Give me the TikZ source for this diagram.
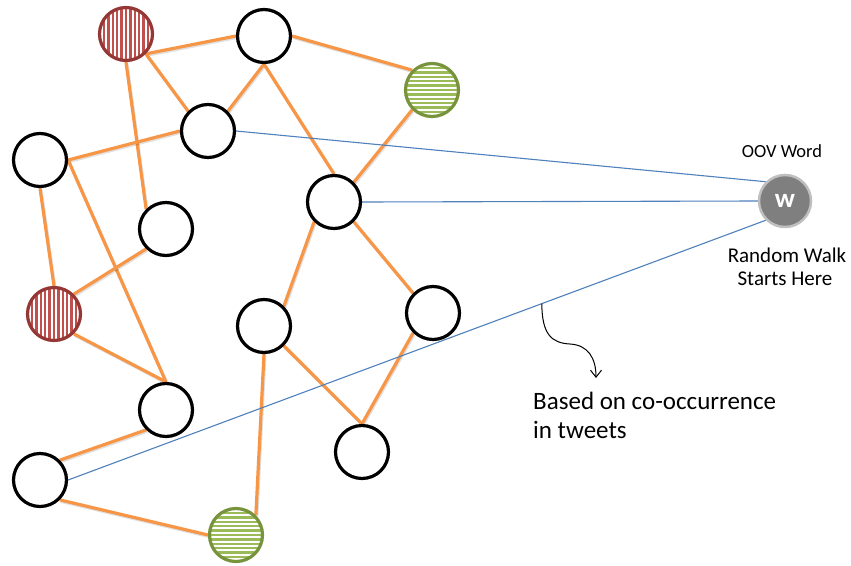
\documentclass[tikz,border=0pt]{standalone}
\usepackage{fontspec}
\setmainfont{Carlito}
\usetikzlibrary{arrows.meta,calc}
\definecolor{edgeorange}{HTML}{F79646}
\definecolor{edgeblue}{HTML}{4F81BD}
\definecolor{redrim}{HTML}{953735}
\definecolor{redstripe}{HTML}{C0504D}
\definecolor{greenrim}{HTML}{77933C}
\definecolor{greenstripe}{HTML}{9BBB59}
\definecolor{wordfill}{HTML}{7F7F7F}
\definecolor{wordrim}{HTML}{BFBFBF}
\pgfdeclarelayer{paper}
\pgfdeclarelayer{edges}
\pgfsetlayers{paper,edges,main}

\begin{document}
\begin{tikzpicture}[x=1pt,y=-1pt,
  vertex/.style={circle, draw=black, line width=3.2pt, fill=white,
    minimum size=53pt, inner sep=0pt},
  redvertex/.style={vertex, draw=redrim,
    path picture={\foreach \s in {-26.4,-22,...,26.5}
      \draw[redstripe, line width=2.4pt, shift={(path picture bounding box.center)}]
        (\s,-30) -- (\s,30);}},
  greenvertex/.style={vertex, draw=greenrim,
    path picture={\foreach \s in {-26.4,-22,...,26.5}
      \draw[greenstripe, line width=2.4pt, shift={(path picture bounding box.center)}]
        (-30,\s) -- (30,\s);}},
  wordvertex/.style={circle, draw=wordrim, fill=wordfill, line width=2.5pt,
    minimum size=52pt, inner sep=0pt, text=white,
    font=\fontsize{27}{29}\selectfont\bfseries},
  link/.style={draw=edgeorange, line width=3.2pt,
    preaction={draw=black, draw opacity=0.12, line width=3pt,
      transform canvas={shift={(1pt,-1.5pt)}}}},
  walk/.style={draw=edgeblue, line width=1.1pt},
  label/.style={inner sep=0pt, text=black},
]
% page
\begin{pgfonlayer}{paper}
  \fill[white] (0,0) rectangle (851,565);
\end{pgfonlayer}

% graph vertices
\node[redvertex]   (R1) at (126,34)  {};
\node[vertex]      (T)  at (264,36)  {};
\node[greenvertex] (G1) at (432,90)  {};
\node[vertex]      (C)  at (208,131) {};
\node[vertex]      (L1) at (40,160)  {};
\node[vertex]      (M)  at (334,202) {};
\node[vertex]      (S)  at (166,229) {};
\node[redvertex]   (R2) at (54,314)  {};
\node[vertex]      (N1) at (264,326) {};
\node[vertex]      (N2) at (433,313) {};
\node[vertex]      (B1) at (166,410) {};
\node[vertex]      (N3) at (362,452) {};
\node[vertex]      (BL) at (40,480)  {};
\node[greenvertex] (G2) at (236,535) {};
\node[wordvertex]  (W)  at (785,201) {w};

% captions
\node[label, anchor=base, font=\fontsize{18.5}{20}\selectfont] (oov) at (782,157) {OOV Word};
\node[label, anchor=base, font=\fontsize{21}{24}\selectfont] (rw1) at (787,262) {Random Walk};
\node[label, anchor=base, font=\fontsize{21}{24}\selectfont] (rw2) at (785,285) {Starts Here};
\node[label, anchor=base west, font=\fontsize{25}{29}\selectfont] (nt1) at (533,409) {Based on co-occurrence};
\node[label, anchor=base west, font=\fontsize{25}{29}\selectfont] (nt2) at (533,438) {in tweets};

% edges, drawn beneath the vertices
\begin{pgfonlayer}{edges}
  \draw[link] (R1.south east) -- (T.west);
  \draw[link] (R1.south east) -- (C.north west);
  \draw[link] (T.south) -- (C.north east);
  \draw[link] (R1.south) -- (S.north west);
  \draw[link] (T.east) -- (G1.north west);
  \draw[link] (T.south) -- (M.north);
  \draw[link] (C.west) -- (L1.east);
  \draw[link] (L1.east) -- (B1.north);
  \draw[link] (L1.south) -- (R2.north);
  \draw[link] (S.south west) -- (R2.north east);
  \draw[link] (R2.south east) -- (B1.north);
  \draw[link] (G1.south west) -- (M.north east);
  \draw[link] (M.south west) -- (N1.north east);
  \draw[link] (M.south east) -- (N2.north west);
  \draw[link] (N1.south east) -- (N3.north);
  \draw[link] (N2.south west) -- (N3.north);
  \draw[link] (N1.south) -- (G2.north east);
  \draw[link] (B1.south west) -- (BL.north east);
  \draw[link] (BL.south east) -- (G2.west);

  \draw[walk] (C.east) -- (W.north west);
  \draw[walk] (M.east) -- (W.west);
  \draw[walk] (BL.east) -- (W.south west);
\end{pgfonlayer}

% pointer from the co-occurrence edge to its note
\coordinate (tap) at ($(BL.east)!0.679!(W.south west)$);
\coordinate (tip) at (596,378);
\draw[line width=1pt, -{Straight Barb[length=7pt,width=11pt]}]
  (tap) .. controls (542,335) and (552,343) .. (570,344)
        .. controls (588,345) and (596,358) .. (tip);
\end{tikzpicture}
\end{document}
